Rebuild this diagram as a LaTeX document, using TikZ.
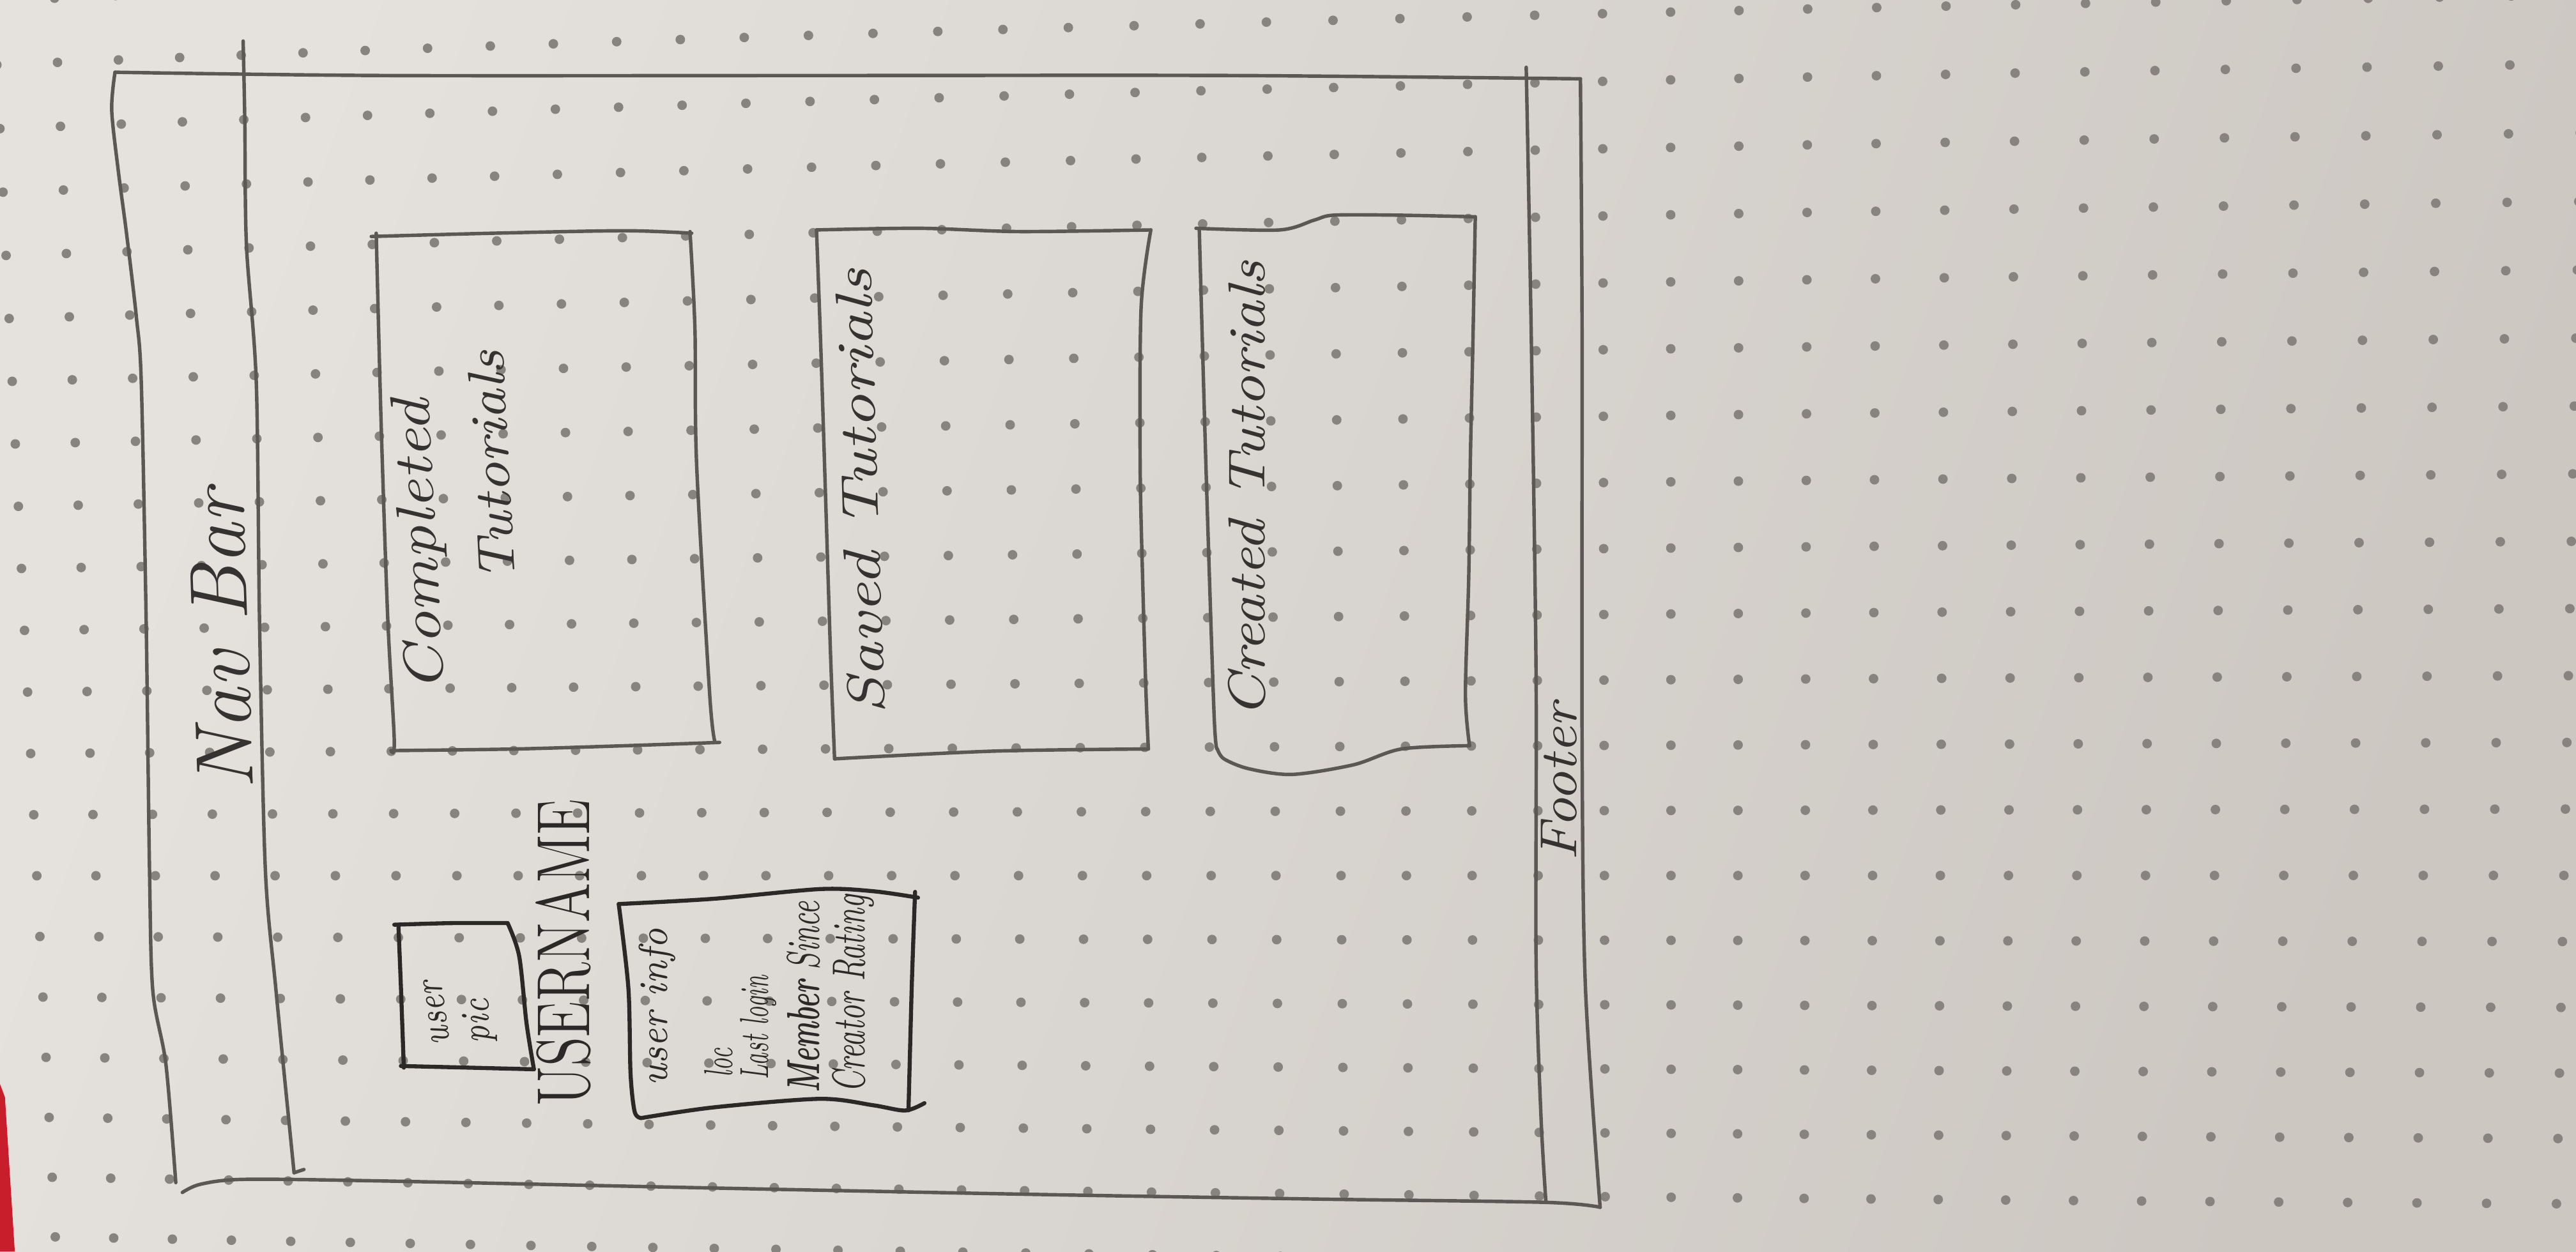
\documentclass[tikz,border=0pt]{standalone}
\usepackage{fontspec}
\definecolor{paperA}{HTML}{E5E2DE}
\definecolor{paperB}{HTML}{CCC7C1}
\definecolor{dotc}{HTML}{87837F}
\definecolor{pencilc}{HTML}{5A5754}
\definecolor{penc}{HTML}{2B2927}
\definecolor{inkc}{HTML}{353331}
\definecolor{tablered}{HTML}{C81E2C}
\begin{document}
\begin{tikzpicture}[x=0.01cm, y=-0.01cm,
  pencil/.style={draw=pencilc, line width=0.6pt, line cap=round, line join=round},
  pen/.style={draw=penc, line width=0.7pt, line cap=round, line join=round},
  hand/.style={inner sep=0pt, outer sep=0pt, text=inkc, font=\itshape},
  penhand/.style={hand, text=penc},
]
\useasboundingbox (0,0) rectangle (1568,762);

% dotted paper
\shade[shading=axis, left color=paperA, right color=paperB, shading angle=70] (0,0) rectangle (1568,762);
\begin{scope}
  \clip (0,0) rectangle (1568,762);
  \foreach \u in {-1,...,38}{
    \foreach \v in {-1,...,20}{
      \pgfmathsetmacro{\px}{35+37*(\u)+0.091*(\u)*(\u)+(\v)*(1.8-0.0712*(\u))}
      \pgfmathsetmacro{\py}{38+39*(\v)-0.07*(\v)*(\v)+(\u)*(-1.5+0.115*(\v))+0.011*(\u)*(\u)*(1-(\v)/13)}
      \fill[dotc] (\px,\py) circle[radius=0.029cm];
    }
  }
\end{scope}
% table showing at the corner
\fill[tablered] (0,660) -- (3,668) -- (9,762) -- (0,762) -- cycle;

% page frame
\draw[pencil] plot[smooth] coordinates {(70,44) (233,46) (500,46) (750,46) (962,48)};
\draw[pencil] plot[smooth] coordinates {(70,44) (68,67) (72,104) (77,142) (83,193) (86,233) (89,380) (91,529) (93,603) (101,648) (107,720)};
\draw[pencil] plot[smooth] coordinates {(111,726) (122,721) (149,718) (233,719) (420,723) (620,727) (800,730) (940,732) (974,735)};
\draw[pencil] plot[smooth] coordinates {(962,48) (963,200) (963,450) (965,600) (974,735)};
% nav bar divider
\draw[pencil] plot[smooth] coordinates {(148,25) (149,73) (150,149) (156,233) (158,380) (161.5,529) (168,603) (179,714)};
\draw[pencil] (179,714) -- (185,712);
% footer divider
\draw[pencil] plot[smooth] coordinates {(929,41) (932,200) (935,410) (935,584) (938,680) (941,732)};

% completed tutorials box
\draw[pencil] plot[smooth] coordinates {(226,144) (300,142) (380,140.5) (421,142)};
\draw[pencil] plot[smooth] coordinates {(420,141) (423,200) (424,282) (432,423) (435,451)};
\draw[pencil] plot[smooth] coordinates {(238,457) (314,456) (381,454) (438,452)};
\draw[pencil] plot[smooth] coordinates {(229,142) (232,258) (236,376) (240,451) (238,457)};

% saved tutorials box
\draw[pencil] plot[smooth] coordinates {(497,140) (560,139) (620,141) (700.5,140)};
\draw[pencil] plot[smooth] coordinates {(700.5,140) (694.6,187) (694,282) (695.5,352) (697.6,423) (699,456)};
\draw[pencil] plot[smooth] coordinates {(699,456) (605,457.3) (508,462)};
\draw[pencil] plot[smooth] coordinates {(497,140) (499.6,211) (502.6,305) (505.6,400) (508,462)};

% created tutorials box
\draw[pencil] plot[smooth] coordinates {(728,139) (779,140) (800,134) (812,131) (850,131) (898,132)};
\draw[pencil] plot[smooth] coordinates {(898,132) (896.5,211) (895,280) (894,352) (892,423) (894.5,454)};
\draw[pencil] plot[smooth] coordinates {(894.5,454) (853,456) (824,465.6) (786.5,471.5) (760,468) (745,462) (741,456)};
\draw[pencil] plot[smooth] coordinates {(730,140) (734,282) (739,435) (741,456)};

% user picture box
\draw[pen] plot[smooth] coordinates {(240,563) (275,562) (309,562)};
\draw[pen] plot[smooth] coordinates {(309,562) (316,582) (320.5,623) (325,651)};
\draw[pen] plot[smooth] coordinates {(325,651) (285,650) (244,649)};
\draw[pen] plot[smooth] coordinates {(242.5,563) (244,600) (245.8,650)};

% user info box
\draw[pen] plot[smooth] coordinates {(376.6,550.4) (434.3,547.2) (499,541.3) (531.5,542.6) (558.8,546.5)};
\draw[pen] plot[smooth] coordinates {(376.6,550.4) (382.5,601.6) (383.8,653.4) (386.3,676.8) (390.2,680.7)};
\draw[pen] plot[smooth] coordinates {(390.2,680.7) (434.3,674.2) (499,669) (531.5,672.9) (551,676.1) (562.7,671.6)};
\draw[pen] plot[smooth] coordinates {(557,543) (555,600) (553,676)};

% labels
\node[hand, rotate=92] (navbar) at (134.5,389.5) {\resizebox{1.83cm}{\height}{\fontsize{14}{16}\selectfont Nav Bar}};
\node[hand, rotate=93] (completed) at (257,332) {\resizebox{1.78cm}{\height}{\fontsize{9.5}{11}\selectfont Completed}};
\node[hand, rotate=93] (completedT) at (299,284) {\resizebox{1.41cm}{\height}{\fontsize{9}{11}\selectfont Tutorials}};
\node[hand, rotate=91.8] (saved) at (523.5,299.5) {\resizebox{2.71cm}{\height}{\fontsize{9}{11}\selectfont Saved Tutorials}};
\node[hand, rotate=90] (created) at (759,298) {\resizebox{2.78cm}{\height}{\fontsize{9}{11}\selectfont Created Tutorials}};
\node[hand, rotate=90] (footer) at (949,476) {\resizebox{0.96cm}{\height}{\fontsize{9}{11}\selectfont Footer}};
\node[penhand, rotate=90, font=\upshape] (username) at (343,580) {\resizebox{1.87cm}{\height}{\fontsize{13}{15}\selectfont USERNAME}};
\node[penhand, rotate=98] (userpicA) at (266,616.5) {\resizebox{0.39cm}{\height}{\fontsize{7}{8}\selectfont user}};
\node[penhand, rotate=92] (userpicB) at (292,621.5) {\resizebox{0.27cm}{\height}{\fontsize{7}{8}\selectfont pic}};
\node[penhand, rotate=90] (infoA) at (400,613) {\resizebox{0.96cm}{\height}{\fontsize{7}{8}\selectfont user info}};
\node[penhand, rotate=90] (infoB) at (437.5,647) {\resizebox{0.18cm}{\height}{\fontsize{7}{8}\selectfont loc}};
\node[penhand, rotate=90] (infoC) at (461.5,625.5) {\resizebox{0.635cm}{\height}{\fontsize{7}{8}\selectfont Last login}};
\node[penhand, rotate=90] (infoD) at (489,607) {\resizebox{1.165cm}{\height}{\fontsize{8}{9}\selectfont \textbf{Member} Since}};
\node[penhand, rotate=90] (infoE) at (519.5,605) {\resizebox{1.205cm}{\height}{\fontsize{8}{9}\selectfont Creator Rating}};
\end{tikzpicture}
\end{document}
